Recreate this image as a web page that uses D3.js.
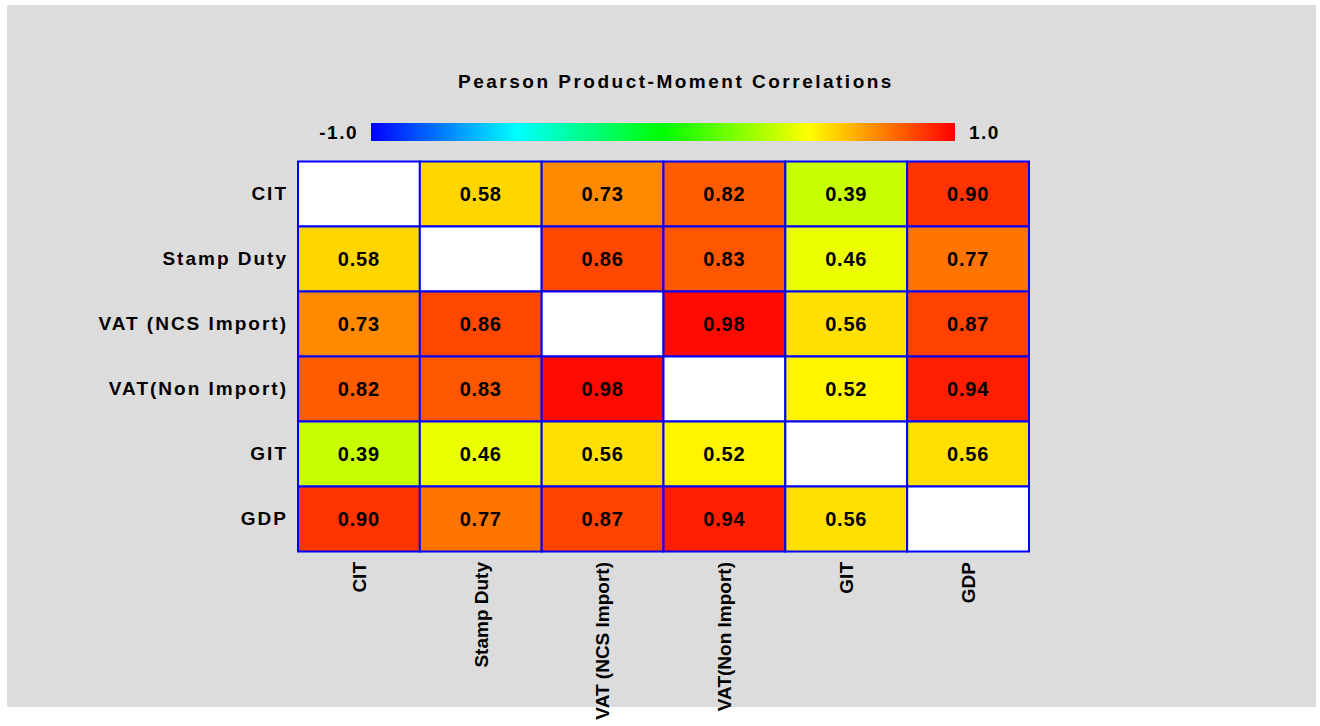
<!DOCTYPE html>
<html lang="en">
<head>
    <meta charset="UTF-8">
    <title>Pearson Product-Moment Correlations</title>
    <script src="https://cdn.jsdelivr.net/npm/d3@7"></script>
    <style>
        body {
            margin: 0;
            background: #fff;
            font-family: 'Liberation Sans', Arial, sans-serif;
        }
        .lbl {
            font-weight: bold;
            fill: #000;
        }
    </style>
</head>
<body>
    <svg id="chart" width="1320" height="726"></svg>

    <script>
    // variables, in row / column order
    const labels = ['CIT', 'Stamp Duty', 'VAT (NCS Import)', 'VAT(Non Import)', 'GIT', 'GDP'];

    // correlation rows (null on the diagonal)
    const rowCIT   = [null, 0.58, 0.73, 0.82, 0.39, 0.90];
    const rowStamp = [0.58, null, 0.86, 0.83, 0.46, 0.77];
    const rowNCS   = [0.73, 0.86, null, 0.98, 0.56, 0.87];
    const rowNon   = [0.82, 0.83, 0.98, null, 0.52, 0.94];
    const rowGIT   = [0.39, 0.46, 0.56, 0.52, null, 0.56];
    const rowGDP   = [0.90, 0.77, 0.87, 0.94, 0.56, null];
    const matrix = [rowCIT, rowStamp, rowNCS, rowNon, rowGIT, rowGDP];

    // colour bar
    const scaleDomain = [-1, -0.5, 0, 0.5, 1];
    const scaleColors = ['#0000ff', '#00ffff', '#00ff00', '#ffff00', '#ff0000'];
    const scaleEnds = ['-1.0', '1.0'];

    const svg = d3.select('#chart');

    svg.append('rect')
        .attr('x', 7).attr('y', 5)
        .attr('width', 1309).attr('height', 702)
        .attr('fill', '#dcdcdc');

    const x = d3.scaleBand().domain(labels).range([298, 1029]);
    const y = d3.scaleBand().domain(labels).range([161.5, 551.5]);
    const color = d3.scaleLinear().domain(scaleDomain).range(scaleColors);

    // title
    svg.append('text')
        .attr('class', 'lbl')
        .attr('x', 676).attr('y', 88)
        .attr('text-anchor', 'middle')
        .style('font-size', '19px')
        .style('letter-spacing', '2.5px')
        .text('Pearson Product-Moment Correlations');

    // colour bar
    const barX = d3.scaleLinear().domain([-1, 1]).range([371, 955]);
    const grad = svg.append('defs').append('linearGradient')
        .attr('id', 'cbar');
    d3.range(-1, 1.001, 0.05).forEach(v => {
        grad.append('stop')
            .attr('offset', ((v + 1) / 2 * 100) + '%')
            .attr('stop-color', color(v));
    });
    svg.append('rect')
        .attr('x', barX(-1)).attr('y', 123)
        .attr('width', barX(1) - barX(-1)).attr('height', 18)
        .attr('fill', 'url(#cbar)');

    svg.append('text')
        .attr('class', 'lbl')
        .attr('x', barX(-1) - 13).attr('y', 139)
        .attr('text-anchor', 'end')
        .style('font-size', '19px')
        .style('letter-spacing', '1.5px')
        .text(scaleEnds[0]);
    svg.append('text')
        .attr('class', 'lbl')
        .attr('x', barX(1) + 14).attr('y', 139)
        .style('font-size', '19px')
        .style('letter-spacing', '1.5px')
        .text(scaleEnds[1]);

    // cells
    const cells = [];
    matrix.forEach((row, i) => {
        row.forEach((v, j) => {
            cells.push({ r: labels[i], c: labels[j], v: v });
        });
    });

    const g = svg.append('g');
    g.selectAll('rect')
        .data(cells)
        .enter()
        .append('rect')
        .attr('x', d => x(d.c))
        .attr('y', d => y(d.r))
        .attr('width', x.bandwidth())
        .attr('height', y.bandwidth())
        .attr('fill', d => d.v === null ? '#fff' : color(d.v))
        .attr('stroke', '#0000ff')
        .attr('stroke-width', 2);

    g.selectAll('text')
        .data(cells.filter(d => d.v !== null))
        .enter()
        .append('text')
        .attr('class', 'lbl')
        .attr('x', d => x(d.c) + x.bandwidth() / 2)
        .attr('y', d => y(d.r) + y.bandwidth() / 2)
        .attr('dy', '0.36em')
        .attr('text-anchor', 'middle')
        .style('font-size', '20px')
        .style('letter-spacing', '0.8px')
        .text(d => d3.format('.2f')(d.v));

    // row labels
    const left = svg.append('g')
        .attr('transform', 'translate(288,0)')
        .call(d3.axisLeft(y).tickSize(0).tickPadding(0));
    left.select('.domain').remove();
    left.selectAll('text')
        .attr('class', 'lbl')
        .attr('font-family', null)
        .attr('font-size', null)
        .style('font-size', '19px')
        .style('letter-spacing', '2px');

    // column labels
    const bottom = svg.append('g')
        .attr('transform', 'translate(0,562)')
        .call(d3.axisBottom(x).tickSize(0).tickPadding(0));
    bottom.select('.domain').remove();
    bottom.selectAll('text')
        .attr('class', 'lbl')
        .attr('font-family', null)
        .attr('font-size', null)
        .style('font-size', '19px')
        .attr('text-anchor', 'end')
        .attr('transform', 'rotate(-90)')
        .attr('x', 0)
        .attr('y', 0)
        .attr('dy', '0.36em');
    </script>
</body>
</html>
